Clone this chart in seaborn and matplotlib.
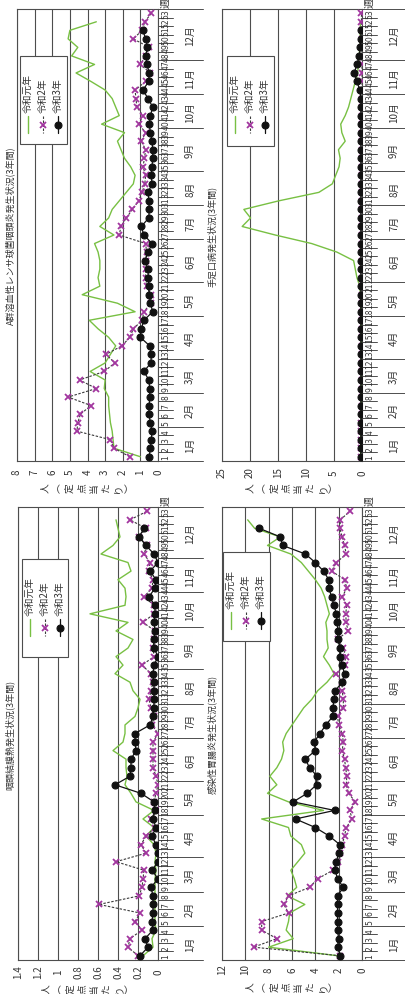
# Weekly reports of four infections over three years.
# The page is turned 90 degrees, so weeks run up the y axis and values grow to the left.
import numpy as np
import pandas as pd
import matplotlib
from matplotlib import pyplot as plt
from matplotlib import transforms
from matplotlib.lines import Line2D
from matplotlib.patches import Rectangle
import seaborn as sns

matplotlib.use("Agg")

W, H = 405, 995  # output size in pixels

# ---------------- data ----------------
WEEKS = list(range(1, 54))
MONTHS = ["1月", "2月", "3月", "4月", "5月", "6月", "7月", "8月", "9月", "10月", "11月", "12月"]
MONTH_EDGES = [0.5, 4.5, 8.5, 12.5, 17.5, 21.5, 26.5, 30.5, 34.5, 39.5, 43.5, 47.5, 53.5]
YEAR_NAMES = ["令和元年", "令和2年", "令和3年"]
Y_LABEL = ["人", "︵", "定", "点", "当", "た", "り", "︶"]  # vertical writing

# A群溶血性レンサ球菌咽頭炎
STREP_TITLE = "A群溶血性レンサ球菌咽頭炎発生状況(3年間)"
STREP_R1 = [1.0, 2.5, 2.55, 2.6, 2.7, 2.75, 2.8, 2.8, 3.05, 3.0, 3.85, 3.0, 2.7, 2.4, 2.8,
            3.4, 3.9, 1.3, 2.3, 4.3, 3.3, 3.4, 3.3, 3.3, 3.4, 3.6, 2.5, 3.3, 2.8, 2.6,
            2.2, 1.8, 1.4, 1.3, 1.55, 1.9, 2.1, 2.3, 1.9, 3.2, 2.2, 2.4, 2.6, 3.0, 3.8,
            4.65, 3.6, 4.9, 4.55, 5.1, 5.0, 3.5]
STREP_R2 = [1.6, 2.5, 2.7, 4.6, 4.55, 4.4, 3.8, 5.1, 3.5, 4.45, 3.05, 2.45, 2.95, 2.05, 1.6,
            1.4, 0.9, 0.8, 0.4, 0.4, 0.65, 0.7, 0.7, 0.7, 0.65, 0.7, 2.2, 2.1, 1.8, 1.45,
            1.1, 0.9, 0.75, 0.7, 0.85, 0.77, 0.7, 0.95, 0.7, 1.1, 0.85, 1.2, 1.25, 1.3, 0.7,
            0.45, 1.0, 0.7, 0.5, 1.4, 0.9, 0.75, 0.38]
STREP_R3 = [0.5, 0.43, 0.38, 0.34, 0.43, 0.52, 0.5, 0.47, 0.47, 0.52, 0.8, 0.4, 0.38, 0.47, 1.0,
            0.95, 0.8, 0.3, 0.43, 0.5, 0.52, 0.56, 0.56, 0.75, 0.55, 0.34, 0.8, 0.95, 0.52, 0.5,
            0.52, 0.56, 0.34, 0.38, 0.34, 0.3, 0.3, 0.34, 0.43, 0.5, 0.43, 0.3, 0.56, 0.86, 0.52,
            0.5, 0.62, 0.7, 0.6, 0.7, 0.86]
STREP_TICKS = [0, 1, 2, 3, 4, 5, 6, 7, 8]
STREP_LABELS = ["0", "1", "2", "3", "4", "5", "6", "7", "8"]

# 咽頭結膜熱
PCF_TITLE = "咽頭結膜熱発生状況(3年間)"
PCF_R1 = [0.15, 0.05, 0.06, 0.02, 0.03, 0.03, 0.03, 0.03, 0.03, 0.03, 0.02, 0.03, 0.02, 0.04, 0.12,
          0.04, 0.15, 0.04, 0.22, 0.27, 0.33, 0.31, 0.32, 0.32, 0.45, 0.35, 0.33, 0.33, 0.23, 0.2,
          0.18, 0.25, 0.28, 0.43, 0.35, 0.42, 0.3, 0.25, 0.42, 0.3, 0.68, 0.33, 0.32, 0.33, 0.4,
          0.27, 0.3, 0.57, 0.45, 0.38, 0.4, 0.42]
PCF_R2 = [0.2, 0.3, 0.28, 0.16, 0.23, 0.18, 0.59, 0.19, 0.16, 0.15, 0.14, 0.42, 0.12, 0.17, 0.12,
          0.03, 0.07, 0.02, 0.04, 0.02, 0.0, 0.02, 0.05, 0.05, 0.05, 0.05, 0.0, 0.06, 0.04, 0.07,
          0.09, 0.07, 0.05, 0.07, 0.16, 0.04, 0.05, 0.04, 0.03, 0.15, 0.04, 0.04, 0.14, 0.06, 0.05,
          0.09, 0.08, 0.14, 0.11, 0.19, 0.12, 0.28, 0.11]
PCF_R3 = [0.18, 0.1, 0.13, 0.05, 0.06, 0.05, 0.05, 0.05, 0.07, 0.0, 0.06, 0.0, 0.0, 0.02, 0.06,
          0.02, 0.05, 0.03, 0.04, 0.17, 0.43, 0.28, 0.27, 0.27, 0.22, 0.23, 0.23, 0.08, 0.05, 0.04,
          0.04, 0.04, 0.04, 0.05, 0.04, 0.0, 0.04, 0.04, 0.03, 0.04, 0.03, 0.03, 0.09, 0.03, 0.02,
          0.08, 0.0, 0.04, 0.12, 0.19, 0.14]
PCF_TICKS = [0, 0.2, 0.4, 0.6, 0.8, 1.0, 1.2, 1.4]
PCF_LABELS = ["0", "0.2", "0.4", "0.6", "0.8", "1", "1.2", "1.4"]

# 手足口病
HFMD_TITLE = "手足口病発生状況(3年間)"
HFMD_R1 = [0.3, 0.2, 0.2, 0.1, 0.1, 0.1, 0.1, 0.1, 0.1, 0.1, 0.1, 0.1, 0.1, 0.1, 0.1,
           0.1, 0.2, 0.2, 0.2, 0.3, 0.4, 0.9, 1.2, 1.5, 4.5, 9.0, 15.5, 21.4, 19.9, 21.1,
           14.9, 7.7, 5.3, 4.7, 4.1, 3.9, 4.2, 3.0, 3.6, 3.8, 3.0, 2.4, 2.0, 1.6, 1.2,
           0.8, 0.6, 0.5, 0.4, 0.4, 0.3, 0.3]
HFMD_R2 = [0.1, 0.1, 0.1, 0.1, 0.1, 0.0, 0.0, 0.0, 0.0, 0.0, 0.0, 0.0, 0.0, 0.0, 0.0,
           0.0, 0.0, 0.0, 0.0, 0.0, 0.0, 0.0, 0.0, 0.0, 0.0, 0.0, 0.0, 0.0, 0.0, 0.0,
           0.0, 0.0, 0.0, 0.0, 0.0, 0.0, 0.0, 0.0, 0.0, 0.0, 0.0, 0.0, 0.0, 0.0, 0.0,
           0.0, 0.0, 0.0, 0.0, 0.0, 0.0, 0.1, 0.1]
HFMD_R3 = [0.2, 0.2, 0.2, 0.2, 0.2, 0.2, 0.2, 0.2, 0.2, 0.2, 0.2, 0.2, 0.2, 0.2, 0.2,
           0.2, 0.2, 0.2, 0.2, 0.2, 0.2, 0.2, 0.2, 0.2, 0.2, 0.2, 0.2, 0.2, 0.2, 0.2,
           0.2, 0.2, 0.2, 0.2, 0.2, 0.2, 0.2, 0.2, 0.2, 0.2, 0.2, 0.2, 0.2, 0.4, 0.9,
           1.4, 0.9, 0.5, 0.3, 0.2, 0.2]
HFMD_TICKS = [0, 5, 10, 15, 20, 25]
HFMD_LABELS = ["0", "5", "10", "15", "20", "25"]

# 感染性胃腸炎
GE_TITLE = "感染性胃腸炎発生状況(3年間)"
GE_R1 = [2.1, 8.0, 5.9, 6.5, 6.3, 6.2, 4.9, 6.4, 5.6, 5.8, 6.1, 5.5, 4.9, 5.2, 6.1,
         6.3, 8.6, 3.3, 6.3, 8.1, 7.3, 7.9, 7.3, 6.9, 6.7, 6.8, 6.5, 6.0, 5.5, 5.0,
         4.3, 3.8, 3.0, 2.4, 2.8, 3.3, 2.9, 3.0, 3.0, 3.1, 2.8, 3.0, 3.2, 3.5, 4.0,
         4.6, 5.2, 6.1, 8.1, 7.0, 9.2, 9.8]
GE_R2 = [1.9, 9.3, 7.3, 8.6, 8.6, 6.3, 6.7, 6.3, 4.5, 3.8, 2.5, 2.1, 1.9, 1.7, 1.5,
         1.35, 0.85, 1.05, 0.57, 1.15, 1.35, 1.3, 1.4, 1.5, 1.7, 1.6, 1.7, 2.0, 2.1, 1.6,
         1.6, 1.7, 1.7, 2.2, 1.5, 1.4, 1.6, 2.1, 1.2, 1.35, 1.4, 1.3, 1.7, 1.3, 1.5,
         2.6, 2.2, 1.35, 1.5, 1.7, 1.9, 1.85, 1.05]
GE_R3 = [1.86, 2.1, 2.0, 2.1, 2.1, 2.1, 2.1, 2.1, 1.6, 2.1, 2.3, 2.2, 2.0, 1.9, 2.8,
         4.0, 5.7, 2.35, 5.9, 4.7, 3.9, 3.85, 4.5, 4.85, 4.0, 4.1, 3.6, 3.1, 2.5, 2.5,
         2.4, 2.3, 1.7, 1.5, 1.7, 1.86, 1.86, 2.1, 2.05, 2.15, 2.2, 2.4, 2.6, 2.85, 2.85,
         3.3, 4.0, 4.85, 6.8, 7.0, 8.8]
GE_TICKS = [0, 2, 4, 6, 8, 10, 12]
GE_LABELS = ["0", "2", "4", "6", "8", "10", "12"]

# ---------------- style ----------------
GRID = "#4d4d4d"
TEXT = "#333333"
STYLES = {
    "令和元年": dict(color="#78c043", lw=1.0, zorder=2),
    "令和2年": dict(color="#3a3a3a", lw=0.8, ls=(0, (2.2, 1.4)), marker="x", ms=4,
                  mew=1.3, mec="#a2369f", zorder=3),
    "令和3年": dict(color="#111111", lw=0.9, marker="o", ms=5, mew=0.8, mec="#111111",
                  mfc="#111111", zorder=4),
}
MARKER_KEYS = ("marker", "ms", "mew", "mec", "mfc")

sns.set_theme(style="white")
plt.rcParams["font.family"] = ["Noto Sans CJK JP", "DejaVu Sans"]
plt.rcParams["text.color"] = TEXT
plt.rcParams["xtick.color"] = TEXT

fig = plt.figure(figsize=(W / 100, H / 100), dpi=100)


def panel(rect, title, series, xmax, ticks, labels, tick_dy, ylab_dy, title_dx, legend_box):
    left, top, right, bottom = rect
    wpx, hpx = right - left, bottom - top
    ax = fig.add_axes([left / W, 1 - bottom / H, wpx / W, hpx / H])

    for name, vals in zip(YEAR_NAMES, series):
        df = pd.DataFrame({"week": WEEKS[:len(vals)], "value": vals})
        sns.lineplot(data=df, x="value", y="week", orient="y", sort=False,
                     estimator=None, ax=ax, **STYLES[name])

    ax.set_xlim(xmax, 0)
    ax.set_ylim(0.5, 53.5)
    ax.set_yticks([])
    ax.set_xticks(ticks)
    ax.set_xticklabels(labels, rotation=90, fontsize=7)
    for lab in ax.get_xticklabels():
        lab.set_va("center")
    ax.tick_params(axis="x", length=0, pad=tick_dy * 0.72)
    ax.set_xlabel("")
    ax.set_ylabel("")
    ax.grid(axis="x", color=GRID, lw=0.8)
    for sp in ax.spines.values():
        sp.set_color(GRID)
        sp.set_linewidth(0.8)

    trans = transforms.blended_transform_factory(ax.transAxes, ax.transData)

    # week table on the right of the zero line
    for w in WEEKS:
        ax.text(1 + 8 / wpx, w, str(w), transform=trans, rotation=90, ha="center",
                va="center", fontsize=5.5, family=["Liberation Sans Narrow", "DejaVu Sans"])
    for e in np.arange(0.5, 54, 1.0):
        long = e in MONTH_EDGES
        ax.add_line(Line2D([1, 1 + (45 if long else 15) / wpx], [e, e], transform=trans,
                           clip_on=False, color=GRID, lw=0.7))
    for m, a, b in zip(MONTHS, MONTH_EDGES[:-1], MONTH_EDGES[1:]):
        ax.text(1 + 32 / wpx, (a + b) / 2, m, transform=trans, rotation=90,
                ha="center", va="center", fontsize=7)
    ax.text(1 + 8 / wpx, 1 + 7 / hpx, "週", transform=ax.transAxes, rotation=90,
            ha="center", va="center", fontsize=7)

    # value axis label: vertical writing turned with the page, one glyph at a time
    n = len(Y_LABEL)
    for i, ch in enumerate(Y_LABEL):
        ax.text(0.5 + (i - (n - 1) / 2) * 12 / wpx, -ylab_dy / hpx, ch,
                transform=ax.transAxes, rotation=90, ha="center", va="center", fontsize=7)
    # title
    ax.text(-title_dx / wpx, 0.5, title, transform=ax.transAxes, rotation=90,
            ha="center", va="center", fontsize=6.5)

    # hand-made legend, turned with the page
    bx0, by0, bx1, by1 = legend_box
    fx = lambda d: d / wpx
    fy = lambda d: 1 - d / hpx
    ax.add_patch(Rectangle((fx(bx0), fy(by1)), fx(bx1) - fx(bx0), fy(by0) - fy(by1),
                           transform=ax.transAxes, facecolor="white", edgecolor=GRID,
                           lw=0.8, zorder=6, clip_on=False))
    for i, name in enumerate(YEAR_NAMES):
        x = fx(bx0 + 8 + 15 * i)
        st = {k: v for k, v in STYLES[name].items() if k != "zorder"}
        line_st = {k: v for k, v in st.items() if k not in MARKER_KEYS}
        ax.add_line(Line2D([x, x], [fy(by0 + 60), fy(by0 + 77)], transform=ax.transAxes,
                           zorder=7, **line_st))
        if "marker" in st:
            ax.add_line(Line2D([x], [fy(by0 + 68.5)], transform=ax.transAxes, zorder=8,
                               ls="none", marker=st["marker"], ms=st["ms"], mew=st["mew"],
                               mec=st["mec"], mfc=st.get("mfc", "none")))
        ax.text(x, fy(by0 + 56), name, transform=ax.transAxes, rotation=90,
                ha="center", va="bottom", fontsize=7, zorder=8)
    return ax


panel((17, 10, 158, 462), STREP_TITLE, [STREP_R1, STREP_R2, STREP_R3], 8,
      STREP_TICKS, STREP_LABELS, 10, 26, 7, (3, 47, 50, 135))
panel((18, 508, 158, 961), PCF_TITLE, [PCF_R1, PCF_R2, PCF_R3], 1.4,
      PCF_TICKS, PCF_LABELS, 11, 28, 8, (4, 52, 50, 150))
panel((222, 10, 362, 462), HFMD_TITLE, [HFMD_R1, HFMD_R2, HFMD_R3], 25,
      HFMD_TICKS, HFMD_LABELS, 11, 26, 10, (5, 47, 52, 137))
panel((222, 508, 362, 961), GE_TITLE, [GE_R1, GE_R2, GE_R3], 12,
      GE_TICKS, GE_LABELS, 9, 26, 10, (1, 45, 48, 134))

fig.savefig("out.png", dpi=100, facecolor="white")
print("saved out.png")
